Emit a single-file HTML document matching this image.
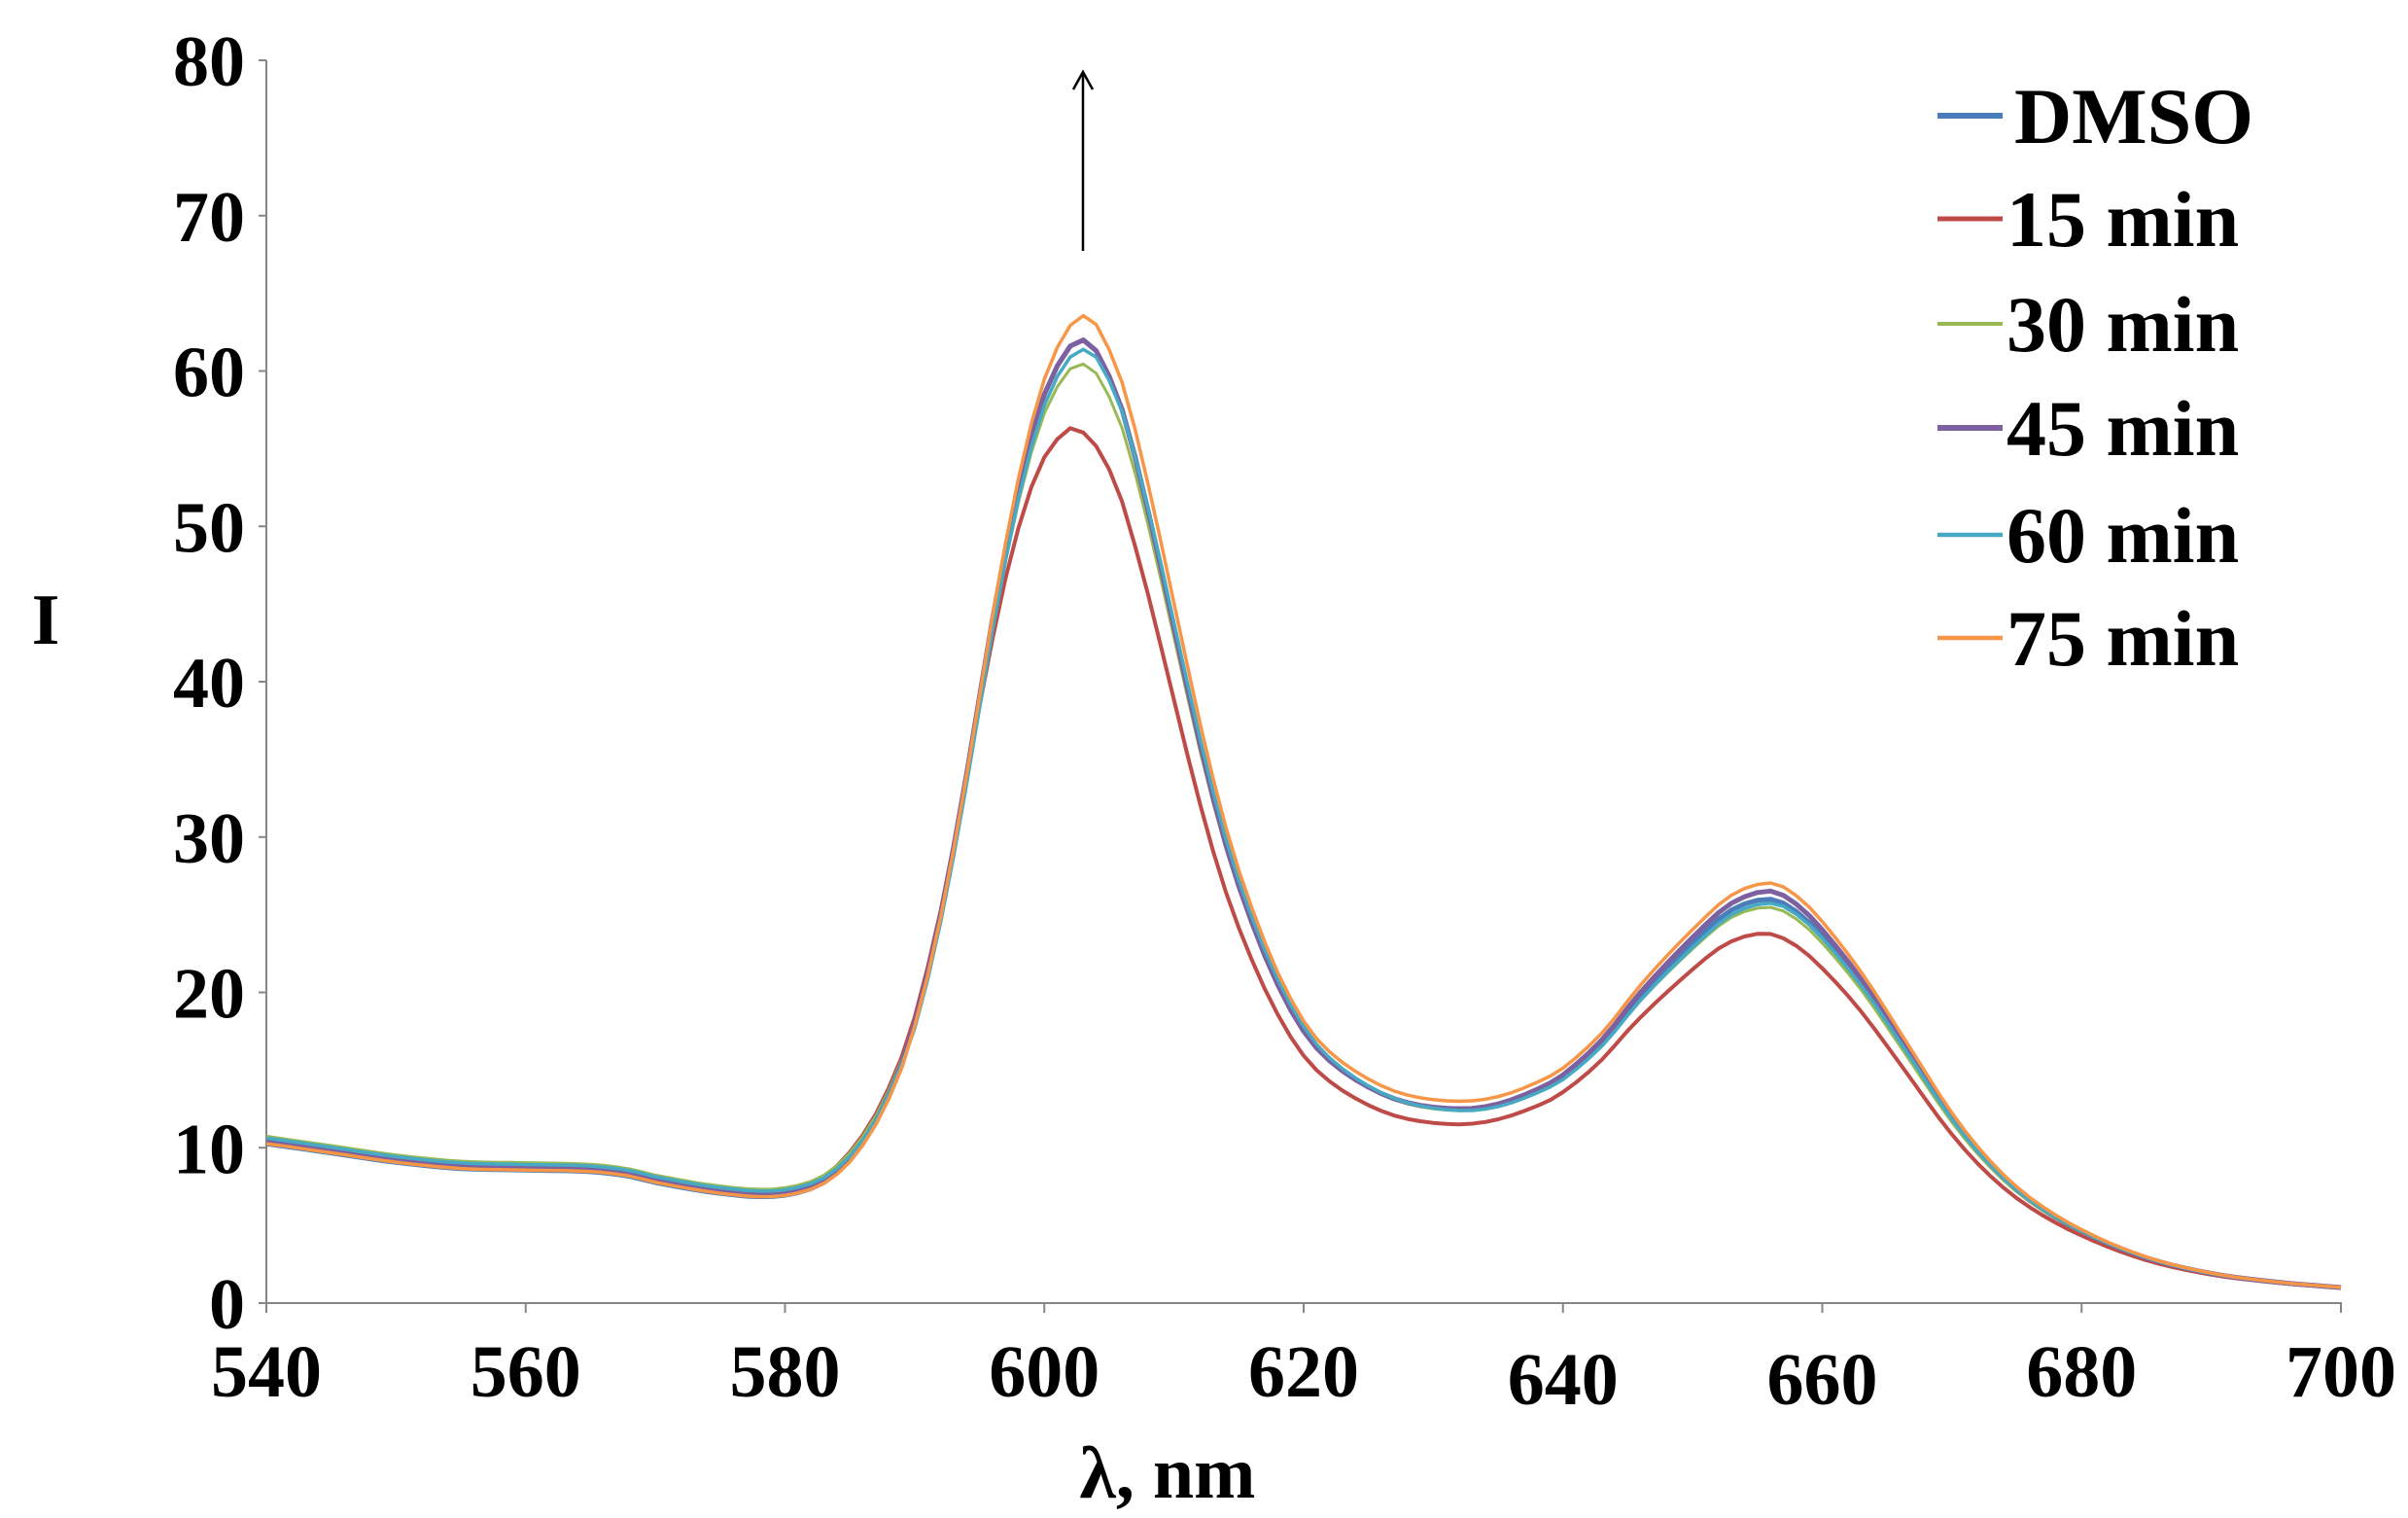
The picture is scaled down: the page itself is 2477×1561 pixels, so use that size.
<!DOCTYPE html>
<html><head><meta charset="utf-8"><style>
html,body{margin:0;padding:0;background:#fff}
svg{display:block}
text{font-family:"Liberation Serif",serif;font-weight:bold;fill:#000}
</style></head><body>
<svg id="s" width="2477" height="1561" viewBox="0 0 2477 1561" xmlns="http://www.w3.org/2000/svg">
<g stroke="#868686" stroke-width="2" fill="none">
<line x1="274" y1="62" x2="274" y2="1341"/>
<line x1="273" y1="1340" x2="2409" y2="1340"/>
</g>
<g id="ticks" stroke="#868686" stroke-width="2"></g>
<g font-size="74" text-anchor="end" id="yl"></g>
<g font-size="76" text-anchor="middle" id="xl"></g>
<text x="47" y="662" font-size="74" text-anchor="middle">I</text>
<text x="1201" y="1540" font-size="76" text-anchor="middle">λ, nm</text>
<line x1="1114" y1="258" x2="1114" y2="76" stroke="#000" stroke-width="2.5"/>
<polyline points="1104,92 1114,74 1124,92" fill="none" stroke="#000" stroke-width="2.5"/>
<g id="curves" fill="none" stroke-linejoin="round"></g>
<g id="leg" font-size="82"></g>
</svg>
<script>
var NS="http://www.w3.org/2000/svg";
function X(l){return 274+(l-540)*13.3375;}
function Y(v){return 1340-v*15.975;}
function el(t,a,p,txt){var e=document.createElementNS(NS,t);for(var k in a)e.setAttribute(k,a[k]);if(txt!=null)e.textContent=txt;document.getElementById(p).appendChild(e);}
for(var v=0;v<=80;v+=10){el("line",{x1:266,y1:Y(v),x2:274,y2:Y(v)},"ticks");el("text",{x:252,y:Y(v)+26},"yl",""+v);}
for(var l=540;l<=700;l+=20){el("line",{x1:X(l),y1:1340,x2:X(l),y2:1350},"ticks");var dy=(l==640||l==660)?8:0;el("text",{x:X(l),y:1436+dy},"xl",""+l);}
var P=[[540,10.5],[545,9.9],[550,9.3],[555,8.9],[560,8.8],[565,8.7],[568,8.4],[570,8.0],[575,7.3],[579,7.1],[582,7.6],[584,8.6],[586,10.5],[588,13.5],[590,18],[592,25],[594,34],[596,44],[598,52.5],[600,58.5],[602,61.6],[603,62],[604,61.3],[606,57.5],[608,51],[610,43.5],[612,36],[614,29.5],[616,24.5],[618,20.5],[620,17.5],[622,15.6],[625,13.9],[628,12.9],[632,12.5],[635,12.8],[638,13.7],[640,14.6],[643,16.8],[646,19.8],[650,23.2],[653,25.3],[656,26],[658,25.2],[660,23.6],[663,20.5],[666,16.8],[670,11.8],[673,8.8],[676,6.6],[680,4.6],[685,2.9],[690,1.9],[695,1.35],[700,1.0]];
function interp(l){for(var i=0;i<P.length-1;i++){if(l>=P[i][0]&&l<=P[i+1][0]){var a=P[i],b=P[i+1];var t=(l-a[0])/(b[0]-a[0]);var t2=t*t,t3=t2*t;
var m0=i>0?(b[1]-P[i-1][1])/(b[0]-P[i-1][0]):(b[1]-a[1])/(b[0]-a[0]);var c=P[i+2]||b;var m1=i<P.length-2?(c[1]-a[1])/(c[0]-a[0]):(b[1]-a[1])/(b[0]-a[0]);var h=b[0]-a[0];
return (2*t3-3*t2+1)*a[1]+(t3-2*t2+t)*h*m0+(-2*t3+3*t2)*b[1]+(t3-t2)*h*m1;}}return P[P.length-1][1];}
function lerpk(l,K){for(var i=0;i<K.length-1;i++){if(l<=K[i+1][0]){var t=(l-K[i][0])/(K[i+1][0]-K[i][0]);if(t<0)t=0;return K[i][1]+(K[i+1][1]-K[i][1])*t;}}return K[K.length-1][1];}
var S=[
["DMSO","#4a7ebb",5,[[540,1],[700,1]],0],
["15 min","#be4b48",4,[[540,0.99],[585,1],[603,0.905],[618,0.93],[633,0.92],[656,0.915],[680,0.97],[700,1]],-0.3],
["30 min","#98b954",3,[[540,1],[585,1],[603,0.975],[620,1],[633,0.99],[656,0.98],[700,1]],0],
["45 min","#7d60a0",5,[[540,1],[585,1],[603,1],[620,1],[633,1],[656,1.02],[700,1]],0],
["60 min","#46aac5",3.5,[[540,1],[585,1],[603,0.99],[620,1.01],[633,0.99],[656,0.99],[700,1]],0.1],
["75 min","#f79646",3.5,[[540,1],[585,1],[603,1.025],[620,1.03],[633,1.04],[656,1.04],[700,1]],0.1]];
var ly=[119,225,333,440,550,656];
S.forEach(function(s,j){var d="";for(var l=540;l<=700.001;l+=1){var v=interp(Math.min(700,Math.max(540,l-s[4])))*lerpk(l,s[3]);if(l<590)v+=((j*37)%5-2)*0.12;d+=(l==540?"M":"L")+X(l).toFixed(1)+","+Y(v).toFixed(1);}
el("path",{d:d,stroke:s[1],"stroke-width":s[2]},"curves");
el("line",{x1:1993,y1:ly[j],x2:2060,y2:ly[j],stroke:s[1],"stroke-width":s[2]+1},"leg");
el("text",{x:j==0?2072:2064,y:ly[j]+28},"leg",s[0]);});
</script>
</body></html>
